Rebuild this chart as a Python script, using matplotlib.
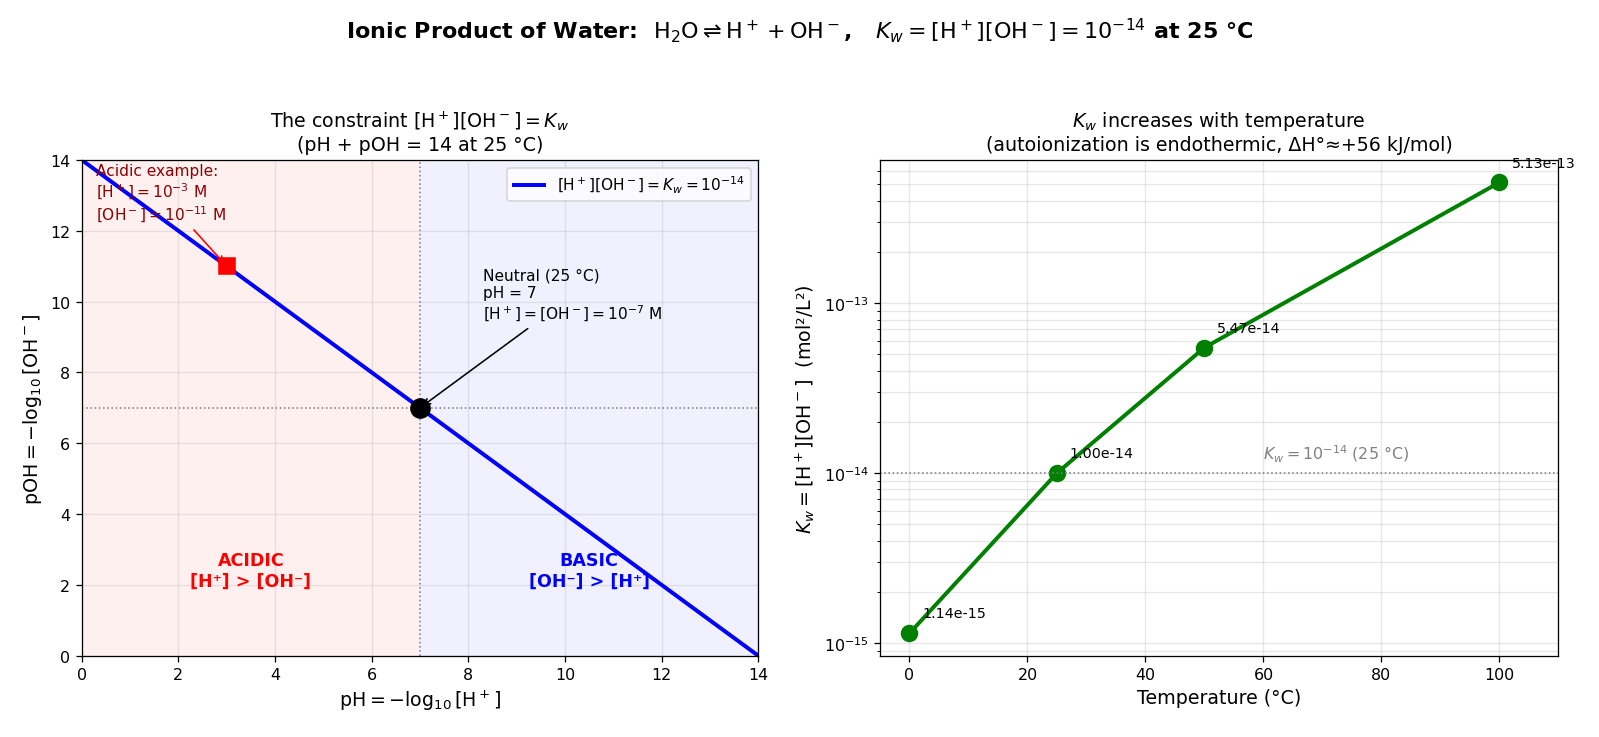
import numpy as np
import matplotlib
matplotlib.use("Agg")
import matplotlib.pyplot as plt

# left panel: pH + pOH = 14
ph = np.array([0, 14])
neutral_ph, neutral_poh = 7, 7
acid_ph, acid_poh = 3, 11

# right panel: Kw vs temperature
temps = [0, 25, 50, 100]
kw_vals = [1.14e-15, 1.00e-14, 5.47e-14, 5.13e-13]

fig = plt.figure(figsize=(14, 6.4575), dpi=114.2857)
ax1 = fig.add_axes([0.051, 0.110, 0.423, 0.672])
ax2 = fig.add_axes([0.550, 0.110, 0.424, 0.672])

fig.suptitle(r"Ionic Product of Water:  $\mathrm{H_2O} \rightleftharpoons \mathrm{H^+} + \mathrm{OH^-}$,   "
             r"$K_w = [\mathrm{H^+}][\mathrm{OH^-}] = 10^{-14}$ at 25 °C",
             fontsize=14, fontweight='bold', y=0.978)

# ---- left
ax1.axvspan(0, 7, color='red', alpha=0.06, lw=0)
ax1.axvspan(7, 14, color='blue', alpha=0.06, lw=0)
ax1.plot(ph, 14 - ph, color='blue', lw=2.5,
         label=r"$[\mathrm{H^+}][\mathrm{OH^-}] = K_w = 10^{-14}$")
ax1.axvline(neutral_ph, color='gray', ls=':', lw=1)
ax1.axhline(neutral_poh, color='gray', ls=':', lw=1)
ax1.plot(neutral_ph, neutral_poh, 'o', color='black', ms=12, zorder=5)
ax1.plot(acid_ph, acid_poh, 's', color='red', ms=10, zorder=5)

ax1.annotate("Neutral (25 °C)\npH = 7\n" + r"$[\mathrm{H^+}] = [\mathrm{OH^-}] = 10^{-7}$ M",
             xy=(neutral_ph, neutral_poh), xytext=(8.3, 9.5), fontsize=9.7,
             arrowprops=dict(arrowstyle='->', color='black', lw=1))
ax1.annotate("Acidic example:\n" + r"$[\mathrm{H^+}] = 10^{-3}$ M" + "\n" + r"$[\mathrm{OH^-}] = 10^{-11}$ M",
             xy=(acid_ph, acid_poh), xytext=(0.3, 12.3), fontsize=9.7, color='darkred',
             arrowprops=dict(arrowstyle='->', color='red', lw=1))

ax1.text(3.5, 2.4, "ACIDIC\n[H⁺] > [OH⁻]", color='red', fontsize=11,
         fontweight='bold', ha='center', va='center')
ax1.text(10.5, 2.4, "BASIC\n[OH⁻] > [H⁺]", color='blue', fontsize=11,
         fontweight='bold', ha='center', va='center')

ax1.set_xlim(0, 14)
ax1.set_ylim(0, 14)
ax1.set_xticks(range(0, 15, 2))
ax1.set_yticks(range(0, 15, 2))
ax1.grid(True, alpha=0.3)
ax1.legend(loc='upper right', fontsize=9.7)
ax1.set_xlabel(r"$\mathrm{pH} = -\log_{10}[\mathrm{H^+}]$", fontsize=12)
ax1.set_ylabel(r"$\mathrm{pOH} = -\log_{10}[\mathrm{OH^-}]$", fontsize=12)
ax1.set_title("The constraint " + r"$[\mathrm{H^+}][\mathrm{OH^-}] = K_w$" + "\n(pH + pOH = 14 at 25 °C)",
              fontsize=12)

# ---- right
ax2.semilogy(temps, kw_vals, 'o-', color='green', lw=2.5, ms=10)
for t, k in zip(temps, kw_vals):
    ax2.annotate(f"{k:.2e}", xy=(t, k), xytext=(8, 10), textcoords='offset points', fontsize=9)
ax2.axhline(1e-14, color='gray', ls=':', lw=1)
ax2.text(60, 1.2e-14, r"$K_w = 10^{-14}$ (25 °C)", color='gray', fontsize=10)
ax2.set_xlim(-5, 110)
ax2.grid(True, which='both', alpha=0.3)
ax2.set_xlabel("Temperature (°C)", fontsize=12)
ax2.set_ylabel(r"$K_w = [\mathrm{H^+}][\mathrm{OH^-}]$  (mol²/L²)", fontsize=12)
ax2.set_title(r"$K_w$ increases with temperature" + "\n(autoionization is endothermic, ΔH°≈+56 kJ/mol)",
              fontsize=12)

fig.savefig("out.png", dpi=114.2857)
